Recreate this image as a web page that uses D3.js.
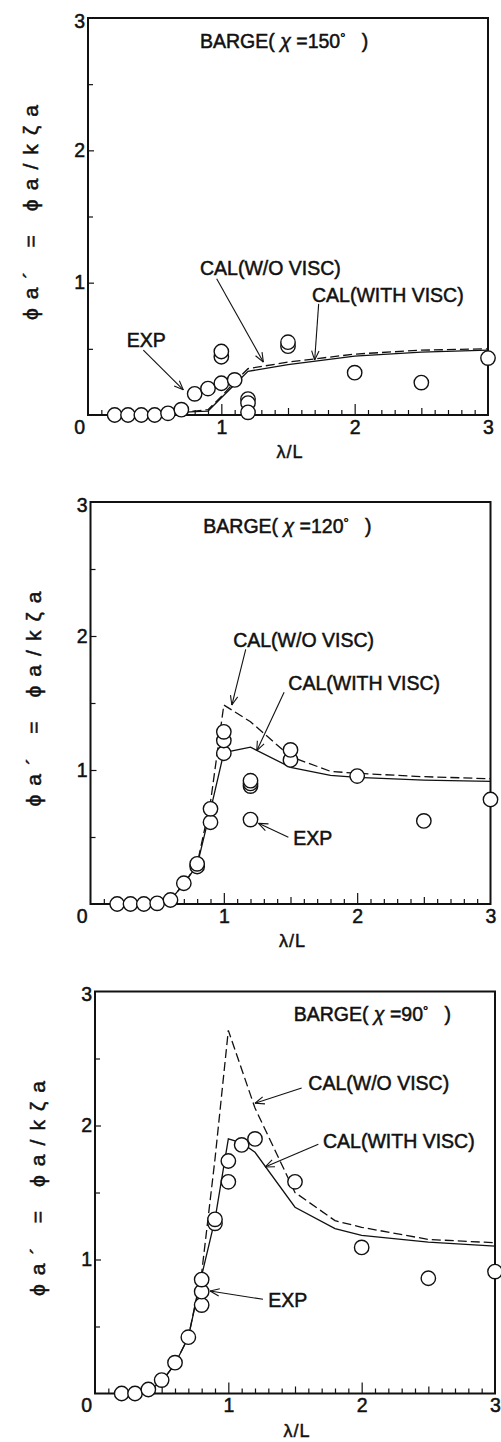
<!DOCTYPE html>
<html>
<head>
<meta charset="utf-8">
<script src="https://cdn.jsdelivr.net/npm/d3@7/dist/d3.min.js"></script>
<style>
  html, body { margin: 0; padding: 0; background: #fff; }
  svg { display: block; }
  text { font-family: "Liberation Sans", Arial, Helvetica, sans-serif; fill: #111; stroke: #111; stroke-width: 0.5px; }
</style>
</head>
<body>
<svg id="fig" width="501" height="1442"></svg>
<script>
// ---- tick labels ----
const xTickLabels = [1, 2, 3];
const yTickLabels = [0, 1, 2, 3];
const headingAngles = ["150", "120", "90"];

// ---- BARGE, chi = 150 deg ----
const exp150Lambda = [0.2, 0.3, 0.4, 0.5, 0.6, 0.7, 0.8, 0.9, 1.0, 1.0, 1.0, 1.1, 1.2, 1.2, 1.2, 1.5, 1.5, 2.0, 2.5, 3.0];
const exp150Phi    = [0.0, 0.0, 0.0, 0.0, 0.013, 0.04, 0.16, 0.20, 0.24, 0.44, 0.48, 0.265, 0.12, 0.09, 0.02, 0.52, 0.55, 0.32, 0.245, 0.43];
const cal150Lambda = [0.2, 0.3, 0.4, 0.5, 0.6, 0.7, 0.8, 0.9, 1.0, 1.1, 1.2, 1.5, 2.0, 2.5, 3.0];
const cal150NoVisc = [0.0, 0.0, 0.0, 0.01, 0.01, 0.025, 0.03, 0.04, 0.14, 0.25, 0.35, 0.40, 0.46, 0.49, 0.50];
const cal150Visc   = [0.0, 0.0, 0.0, 0.01, 0.01, 0.02, 0.025, 0.03, 0.13, 0.23, 0.33, 0.38, 0.445, 0.475, 0.49];

// ---- BARGE, chi = 120 deg ----
const exp120Lambda = [0.2, 0.3, 0.4, 0.5, 0.6, 0.7, 0.8, 0.8, 0.9, 0.9, 1.0, 1.0, 1.0, 1.2, 1.2, 1.2, 1.2, 1.5, 1.5, 2.0, 2.5, 3.0];
const exp120Phi    = [0.0, 0.0, 0.0, 0.005, 0.03, 0.155, 0.28, 0.30, 0.61, 0.71, 1.125, 1.22, 1.285, 0.63, 0.88, 0.90, 0.92, 1.075, 1.15, 0.955, 0.62, 0.78];
const cal120Lambda = [0.2, 0.3, 0.4, 0.5, 0.6, 0.7, 0.8, 0.9, 1.0, 1.2, 1.5, 1.8, 2.0, 2.5, 3.0];
const cal120NoVisc = [0.0, 0.0, 0.0, 0.01, 0.03, 0.15, 0.30, 0.76, 1.485, 1.36, 1.10, 0.99, 0.975, 0.95, 0.935];
const cal120Visc   = [0.0, 0.0, 0.0, 0.01, 0.03, 0.15, 0.29, 0.70, 1.13, 1.17, 1.02, 0.96, 0.945, 0.925, 0.915];

// ---- BARGE, chi = 90 deg ----
const exp90Lambda = [0.2, 0.3, 0.4, 0.5, 0.6, 0.7, 0.8, 0.8, 0.8, 0.9, 0.9, 1.0, 1.0, 1.1, 1.2, 1.5, 2.0, 2.5, 3.0];
const exp90Phi    = [0.0, 0.0, 0.03, 0.10, 0.23, 0.42, 0.66, 0.76, 0.85, 1.27, 1.30, 1.58, 1.735, 1.855, 1.90, 1.58, 1.09, 0.86, 0.91];
const cal90Lambda = [0.2, 0.3, 0.4, 0.5, 0.6, 0.7, 0.8, 0.9, 1.0, 1.1, 1.2, 1.5, 1.8, 2.0, 2.5, 3.0];
const cal90NoVisc = [0.0, 0.0, 0.02, 0.09, 0.22, 0.42, 0.90, 1.75, 2.71, 2.42, 2.13, 1.50, 1.29, 1.24, 1.15, 1.125];
const cal90Visc   = [0.0, 0.0, 0.02, 0.09, 0.22, 0.42, 0.88, 1.30, 1.90, 1.87, 1.80, 1.39, 1.23, 1.18, 1.13, 1.10];

// ---- page layout: one framed plot per heading ----
const layout = [
  { frame: { left: 88, right: 488, top: 18, bottom: 415 },
    title: [0.84, 2.77],
    notes: [
      { text: "CAL(W/O VISC)",  at: [0.84, 1.06], from: [0.965, 1.03], to: [1.315, 0.40] },
      { text: "CAL(WITH VISC)", at: [1.68, 0.856], from: [1.73, 0.84], to: [1.70, 0.415] },
      { text: "EXP",            at: [0.29, 0.516], from: [0.415, 0.49], to: [0.715, 0.19] }
    ] },
  { frame: { left: 90.5, right: 490.5, top: 502, bottom: 904 },
    title: [0.846, 2.77],
    notes: [
      { text: "CAL(W/O VISC)",  at: [1.07, 1.92], from: [1.164, 1.90], to: [1.06, 1.485] },
      { text: "CAL(WITH VISC)", at: [1.484, 1.60], from: [1.452, 1.58], to: [1.247, 1.144] },
      { text: "EXP",            at: [1.52, 0.44], from: [1.484, 0.498], to: [1.26, 0.602] }
    ] },
  { frame: { left: 95, right: 495, top: 991.5, bottom: 1393.5 },
    title: [1.49, 2.78],
    notes: [
      { text: "CAL(W/O VISC)",  at: [1.60, 2.265], from: [1.55, 2.28], to: [1.20, 2.166] },
      { text: "CAL(WITH VISC)", at: [1.71, 1.83], from: [1.675, 1.86], to: [1.275, 1.69] },
      { text: "EXP",            at: [1.30, 0.648], from: [1.26, 0.703], to: [0.863, 0.765] }
    ] }
];

const series = [
  { expL: exp150Lambda, expV: exp150Phi, calL: cal150Lambda, noVisc: cal150NoVisc, visc: cal150Visc },
  { expL: exp120Lambda, expV: exp120Phi, calL: cal120Lambda, noVisc: cal120NoVisc, visc: cal120Visc },
  { expL: exp90Lambda,  expV: exp90Phi,  calL: cal90Lambda,  noVisc: cal90NoVisc,  visc: cal90Visc }
];

const svg = d3.select("#fig");
const ink = "#111";

series.forEach((s, i) => {
  const f = layout[i].frame;
  const x = d3.scaleLinear().domain([0, 3]).range([f.left, f.right]);
  const y = d3.scaleLinear().domain([0, 3]).range([f.bottom, f.top]);
  const g = svg.append("g");

  // calculated curves
  const line = d3.line().x(d => x(d[0])).y(d => y(d[1]));
  g.append("path")
    .datum(s.calL.map((l, k) => [l, s.visc[k]]))
    .attr("d", line).attr("fill", "none").attr("stroke", ink).attr("stroke-width", 1.3);
  g.append("path")
    .datum(s.calL.map((l, k) => [l, s.noVisc[k]]))
    .attr("d", line).attr("fill", "none").attr("stroke", ink).attr("stroke-width", 1.3)
    .attr("stroke-dasharray", "9,4");

  // frame
  g.append("rect")
    .attr("x", f.left).attr("y", f.top)
    .attr("width", f.right - f.left).attr("height", f.bottom - f.top)
    .attr("fill", "none").attr("stroke", ink).attr("stroke-width", 2);

  // inward ticks along the bottom axis
  const xt = g.append("g").attr("transform", `translate(0,${f.bottom})`)
    .call(d3.axisBottom(x).tickValues(d3.range(1, 30).map(k => k / 10)).tickFormat("").tickSizeOuter(0));
  xt.select(".domain").remove();
  xt.selectAll(".tick line")
    .attr("stroke", ink).attr("stroke-width", 1.2)
    .attr("y2", d => {
      const k = Math.round(d * 10);
      return k % 10 === 0 ? -11 : (k % 5 === 0 ? -7 : -5);
    });

  // inward ticks along the left axis
  const yt = g.append("g").attr("transform", `translate(${f.left},0)`)
    .call(d3.axisLeft(y).tickValues([0.5, 1, 1.5, 2, 2.5]).tickFormat("").tickSizeOuter(0));
  yt.select(".domain").remove();
  yt.selectAll(".tick line").attr("stroke", ink).attr("stroke-width", 1.2)
    .attr("x2", d => Number.isInteger(d) ? 6 : 5);

  // tick labels
  const xl = g.append("g").attr("transform", `translate(0,${f.bottom})`)
    .call(d3.axisBottom(x).tickValues(xTickLabels).tickSize(0).tickPadding(5).tickFormat(d3.format("d")));
  xl.select(".domain").remove();
  xl.selectAll("text").attr("font-size", 19.5).attr("font-family", null);

  const yl = g.append("g").attr("transform", `translate(${f.left},0)`)
    .call(d3.axisLeft(y).tickValues(yTickLabels).tickSize(0).tickPadding(3).tickFormat(d3.format("d")));
  yl.select(".domain").remove();
  yl.selectAll("text").attr("font-size", 19.5).attr("font-family", null)
    .attr("y", d => d === 0 ? 12 : (d === 3 ? 3 : 0));

  // axis titles
  g.append("text")
    .attr("x", x(1.5) + 2).attr("y", f.bottom + 43)
    .attr("text-anchor", "middle").attr("font-size", 18)
    .attr("letter-spacing", 1)
    .text("λ/L");

  g.append("text")
    .attr("transform", `translate(${f.left - 50},${y(1.53)}) rotate(-90)`)
    .attr("text-anchor", "middle").attr("font-size", 21)
    .attr("textLength", 215).attr("lengthAdjust", "spacing")
    .text("ϕa´ = ϕa/kζa");

  // heading
  const t = g.append("text")
    .attr("x", x(layout[i].title[0])).attr("y", y(layout[i].title[1]))
    .attr("font-size", 19.5);
  t.append("tspan").text("BARGE(\u00a0");
  t.append("tspan").attr("font-style", "italic").text("χ");
  t.append("tspan").text("\u00a0=" + headingAngles[i]);
  t.append("tspan").attr("font-size", 13).attr("dy", -6).text("°");
  t.append("tspan").attr("dy", 6).text("\u00a0\u00a0\u00a0)");

  // callouts with open arrowheads
  layout[i].notes.forEach(n => {
    g.append("text").attr("x", x(n.at[0])).attr("y", y(n.at[1]))
      .attr("font-size", 19.5).text(n.text);
    const x1 = x(n.from[0]), y1 = y(n.from[1]), x2 = x(n.to[0]), y2 = y(n.to[1]);
    g.append("line").attr("x1", x1).attr("y1", y1).attr("x2", x2).attr("y2", y2)
      .attr("stroke", ink).attr("stroke-width", 1.1);
    const a = Math.atan2(y1 - y2, x1 - x2), h = 10, w = 0.38;
    [a - w, a + w].forEach(b => {
      g.append("line").attr("x1", x2).attr("y1", y2)
        .attr("x2", x2 + h * Math.cos(b)).attr("y2", y2 + h * Math.sin(b))
        .attr("stroke", ink).attr("stroke-width", 1.1);
    });
  });

  // measured points
  g.append("g").selectAll("circle")
    .data(s.expL.map((l, k) => [l, s.expV[k]]))
    .join("circle")
    .attr("cx", d => x(d[0])).attr("cy", d => y(d[1])).attr("r", 7.2)
    .attr("fill", "#fff").attr("stroke", ink).attr("stroke-width", 1.4);
});
</script>
</body>
</html>
